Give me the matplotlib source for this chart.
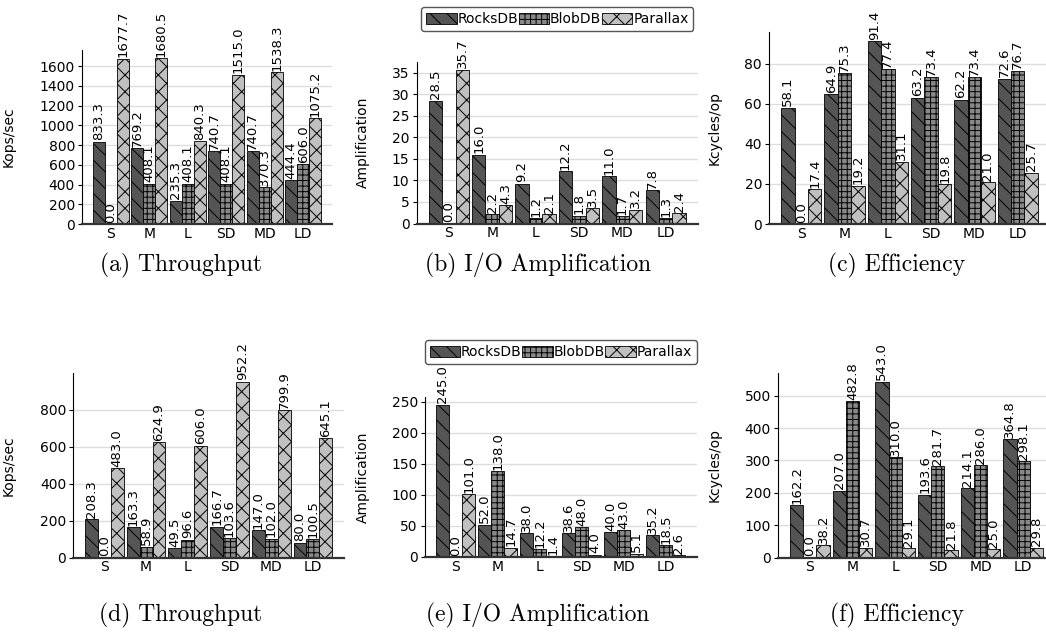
import numpy as np
import matplotlib
matplotlib.use("Agg")
import matplotlib.pyplot as plt
from matplotlib.ticker import MultipleLocator

W, H = 1046, 642
DPI = 100

workloads = ["S", "M", "L", "SD", "MD", "LD"]
systems = ["RocksDB", "BlobDB", "Parallax"]

# (a) throughput, (b) I/O amplification, (c) efficiency  -- top row
thr_rocks = [833.3, 769.2, 235.3, 740.7, 740.7, 444.4]
thr_blob = [0.0, 408.1, 408.1, 408.1, 370.3, 606.0]
thr_parallax = [1677.7, 1680.5, 840.3, 1515.0, 1538.3, 1075.2]

amp_rocks = [28.5, 16.0, 9.2, 12.2, 11.0, 7.8]
amp_blob = [0.0, 2.2, 1.2, 1.8, 1.7, 1.3]
amp_parallax = [35.7, 4.3, 2.1, 3.5, 3.2, 2.4]

eff_rocks = [58.1, 64.9, 91.4, 63.2, 62.2, 72.6]
eff_blob = [0.0, 75.3, 77.4, 73.4, 73.4, 76.7]
eff_parallax = [17.4, 19.2, 31.1, 19.8, 21.0, 25.7]

# (d) throughput, (e) I/O amplification, (f) efficiency  -- bottom row
thr2_rocks = [208.3, 163.3, 49.5, 166.7, 147.0, 80.0]
thr2_blob = [0.0, 58.9, 96.6, 103.6, 102.0, 100.5]
thr2_parallax = [483.0, 624.9, 606.0, 952.2, 799.9, 645.1]

amp2_rocks = [245.0, 52.0, 38.0, 38.6, 40.0, 35.2]
amp2_blob = [0.0, 138.0, 12.2, 48.0, 43.0, 18.5]
amp2_parallax = [101.0, 14.7, 1.4, 4.0, 5.1, 2.6]

eff2_rocks = [162.2, 207.0, 543.0, 193.6, 214.1, 364.8]
eff2_blob = [0.0, 482.8, 310.0, 281.7, 286.0, 298.1]
eff2_parallax = [38.2, 30.7, 29.1, 21.8, 25.0, 29.8]

colors = ["#555555", "#888888", "#c0c0c0"]
hatches = ["\\\\", "+++", "xx"]

# caption, ylabel, series, tick step, box (left, right, top, bottom px),
# ylabel x, caption x, caption y, legend bottom y (or None)
panels = [
    ("(a) Throughput", "Kops/sec", [thr_rocks, thr_blob, thr_parallax], 200,
     (82, 332, 50, 224), 16, 181, 265, None),
    ("(b) I/O Amplification", "Amplification", [amp_rocks, amp_blob, amp_parallax], 5,
     (416.5, 698, 62, 223.5), 370, 538, 265, 31),
    ("(c) Efficiency", "Kcycles/op", [eff_rocks, eff_blob, eff_parallax], 20,
     (769, 1050, 32, 224), 722, 897, 265, None),
    ("(d) Throughput", "Kops/sec", [thr2_rocks, thr2_blob, thr2_parallax], 200,
     (73.3, 344, 373, 557.5), 16, 181, 615, None),
    ("(e) I/O Amplification", "Amplification", [amp2_rocks, amp2_blob, amp2_parallax], 50,
     (424.7, 697, 397, 557), 370, 538, 615, 364),
    ("(f) Efficiency", "Kcycles/op", [eff2_rocks, eff2_blob, eff2_parallax], 100,
     (778, 1055, 373, 557.5), 722, 897, 615, None),
]

plt.rcParams["hatch.linewidth"] = 0.7

fig = plt.figure(figsize=(W / DPI, H / DPI), dpi=DPI)

x = np.arange(len(workloads))
bw = 0.31

for caption, ylabel, series, step, box, ylx, cx, cy, legy in panels:
    l, r, t, b = box
    ax = fig.add_axes([l / W, 1 - b / H, (r - l) / W, (b - t) / H])
    ax.set_axisbelow(True)
    ax.yaxis.grid(True, color="#dddddd", linewidth=1)
    for k, (vals, name) in enumerate(zip(series, systems)):
        bars = ax.bar(x + (k - 1) * bw, vals, bw, color=colors[k], hatch=hatches[k],
                      edgecolor="black", linewidth=0.6, label=name)
        ax.bar_label(bars, fmt="%.1f", rotation=90, padding=1, fontsize=9.5)
    top = max(max(s) for s in series) * 1.05
    ax.set_ylim(0, top)
    ax.set_xlim(-0.745, 5.745)
    ax.yaxis.set_major_locator(MultipleLocator(step))
    ax.set_xticks(x)
    ax.set_xticklabels(workloads)
    ax.tick_params(axis="x", length=0, labelsize=10, pad=2)
    ax.tick_params(axis="y", labelsize=10, length=3, pad=2)
    ax.spines["top"].set_visible(False)
    ax.spines["right"].set_visible(False)
    ax.spines["bottom"].set_linewidth(1.6)
    ax.spines["bottom"].set_color("#333333")
    ax.set_ylabel(ylabel, fontsize=10)
    ax.yaxis.set_label_coords((ylx - l) / (r - l), 0.5)

    if legy is not None:
        ax.legend(loc="lower center", bbox_to_anchor=((l + r) / 2 / W, 1 - legy / H),
                  bbox_transform=fig.transFigure,
                  ncol=3, fontsize=10, handlelength=2.2, handleheight=0.8,
                  handletextpad=0.05, columnspacing=0.05, borderpad=0.35,
                  borderaxespad=0.0, frameon=True, edgecolor="#555555",
                  framealpha=1, fancybox=True)

    fig.text(cx / W, 1 - cy / H, caption, ha="center", va="center",
             fontsize=17, family="cmr10")

fig.savefig("out.png", dpi=DPI)
